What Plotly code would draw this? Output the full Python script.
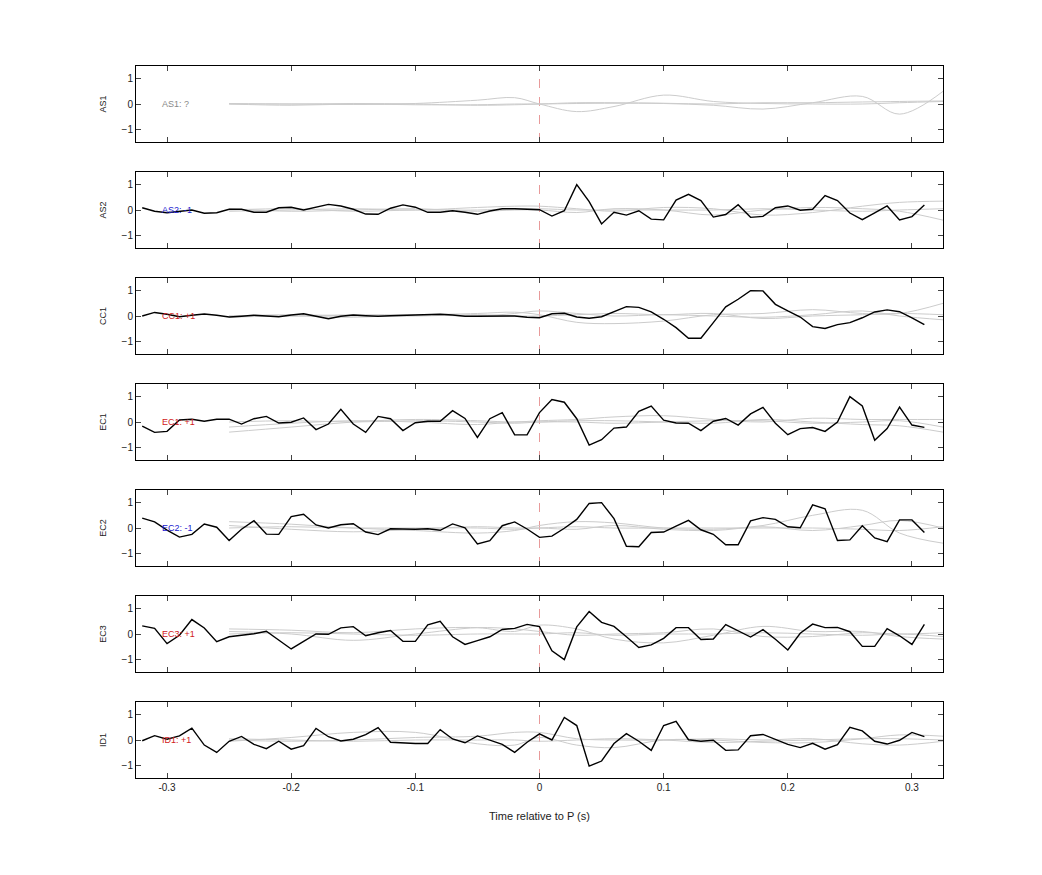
import plotly.graph_objects as go

# sample times of the black traces (s)
t = [round(-0.32 + 0.01 * k, 2) for k in range(64)]

# knots of the gray (smooth) traces
tk = [-0.25, -0.2, -0.15, -0.1, -0.05, -0.02, 0.0, 0.03, 0.06, 0.1, 0.14, 0.18, 0.22, 0.26, 0.29, 0.325]

stations = ["AS1", "AS2", "CC1", "EC1", "EC2", "EC3", "ID1"]
labels = ["AS1: ?", "AS2: -1", "CC1: +1", "EC1: +1", "EC2: -1", "EC3: +1", "ID1: +1"]
label_colors = ["#888888", "#2020d0", "#d02020", "#d02020", "#2020d0", "#d02020", "#d02020"]

black = {
    "AS1": None,
    "AS2": [0.09, -0.05, -0.11, -0.05, 0, -0.13, -0.11, 0.03, 0.03, -0.09,
            -0.09, 0.09, 0.11, 0, 0.11, 0.22, 0.16, 0.03, -0.16, -0.17,
            0.07, 0.2, 0.11, -0.09, -0.09, -0.03, -0.09, -0.17, -0.04, 0.05,
            0.05, 0.04, 0.01, -0.24, -0.03, 1.0, 0.33, -0.55, -0.09, -0.2,
            -0.03, -0.36, -0.39, 0.39, 0.62, 0.37, -0.28, -0.18, 0.21, -0.29,
            -0.25, 0.09, 0.16, -0.01, 0.03, 0.57, 0.37, -0.12, -0.38, -0.11,
            0.16, -0.39, -0.26, 0.2],
    "CC1": [0, 0.14, 0.07, -0.03, 0.03, 0.08, 0.03, -0.04, -0.01, 0.03,
            0, -0.03, 0.04, 0.09, -0.01, -0.11, -0.01, 0.04, 0.01, -0.01,
            0.01, 0.03, 0.04, 0.05, 0.07, 0.04, -0.01, -0.01, 0, 0,
            0, -0.05, -0.07, 0.09, 0.11, -0.04, -0.09, -0.03, 0.17, 0.37,
            0.34, 0.16, -0.13, -0.46, -0.88, -0.88, -0.26, 0.36, 0.66, 1.0,
            0.99, 0.46, 0.2, -0.04, -0.42, -0.49, -0.34, -0.26, -0.07, 0.16,
            0.24, 0.17, -0.07, -0.34],
    "EC1": [-0.16, -0.41, -0.37, 0.08, 0.11, 0.03, 0.11, 0.11, -0.08, 0.13,
            0.22, -0.04, -0.01, 0.16, -0.3, -0.08, 0.5, -0.08, -0.41, 0.22,
            0.13, -0.34, -0.03, 0.03, 0.03, 0.45, 0.14, -0.61, 0.13, 0.37,
            -0.51, -0.51, 0.37, 0.89, 0.78, 0.13, -0.91, -0.7, -0.24, -0.2,
            0.42, 0.63, 0.07, -0.04, -0.05, -0.34, 0.03, 0.14, -0.12, 0.32,
            0.58, -0.05, -0.5, -0.26, -0.22, -0.37, 0, 1.0, 0.63, -0.72,
            -0.26, 0.59, -0.12, -0.21],
    "EC2": [0.39, 0.24, -0.08, -0.36, -0.25, 0.16, 0.03, -0.49, -0.05, 0.29,
            -0.24, -0.25, 0.45, 0.54, 0.12, 0, 0.13, 0.17, -0.16, -0.26,
            -0.03, -0.05, -0.05, -0.03, -0.09, 0.16, 0.01, -0.63, -0.5, 0.09,
            0.24, -0.04, -0.37, -0.32, -0.01, 0.34, 0.97, 1.0, 0.37, -0.72,
            -0.74, -0.18, -0.16, 0.07, 0.3, -0.07, -0.25, -0.66, -0.66, 0.28,
            0.41, 0.34, 0.05, 0.01, 0.91, 0.76, -0.49, -0.47, 0.09, -0.39,
            -0.54, 0.32, 0.32, -0.18],
    "EC3": [0.32, 0.22, -0.38, -0.05, 0.57, 0.24, -0.3, -0.11, -0.05, 0.01,
            0.11, -0.24, -0.59, -0.29, 0, -0.01, 0.24, 0.29, -0.07, 0.05,
            0.14, -0.29, -0.29, 0.36, 0.5, -0.11, -0.41, -0.26, -0.11, 0.18,
            0.22, 0.38, 0.29, -0.66, -1.01, 0.28, 0.89, 0.46, 0.3, -0.11,
            -0.53, -0.43, -0.17, 0.25, 0.25, -0.22, -0.2, 0.37, 0.13, -0.12,
            0.17, -0.21, -0.63, 0.03, 0.39, 0.25, 0.26, 0.09, -0.49, -0.49,
            0.21, -0.07, -0.41, 0.38],
    "ID1": [-0.03, 0.17, 0.03, 0.16, 0.47, -0.2, -0.49, -0.05, 0.14, -0.17,
            -0.34, -0.05, -0.36, -0.22, 0.46, 0.13, -0.04, 0.03, 0.21, 0.49,
            -0.09, -0.12, -0.14, -0.14, 0.41, 0.04, -0.11, 0.16, 0, -0.17,
            -0.49, -0.09, 0.24, 0, 0.89, 0.57, -1.03, -0.83, -0.14, 0.25,
            -0.05, -0.41, 0.57, 0.74, 0.01, -0.05, -0.01, -0.41, -0.39, 0.17,
            0.22, 0.04, -0.17, -0.3, -0.13, -0.36, -0.18, 0.5, 0.36, -0.05,
            -0.16, -0.01, 0.3, 0.13],
}

gray = {
    "AS1": [[0, 0, -0.02, 0.02, 0.15, 0.25, 0, -0.3, -0.1, 0.35, 0.1, 0.02, 0, 0, 0.05, 0.1],
            [0, -0.05, 0, -0.03, -0.03, 0, 0, 0.02, 0.03, 0.02, -0.05, -0.2, 0.05, 0.3, -0.4, 0.5],
            [0.02, 0, 0.02, 0, -0.05, -0.03, 0, 0.05, 0.05, 0.03, 0, 0.05, 0.05, 0.08, 0.1, 0.12]],
    "AS2": [[-0.05, 0, 0.05, 0, 0.1, 0.15, 0.15, 0.05, -0.05, 0.1, 0.05, -0.2, -0.1, 0.15, 0.3, 0.35],
            [0.05, -0.05, 0, 0.05, -0.05, 0, 0, -0.1, 0.05, 0, -0.2, 0, 0.1, 0.05, -0.05, -0.4],
            [0, 0.05, -0.05, 0, 0, 0.05, 0.05, 0, 0, 0, 0, 0.05, 0, -0.05, 0, 0.05]],
    "CC1": [[0, 0, 0.05, 0.05, 0.1, 0.15, 0.05, -0.25, -0.3, -0.2, 0.05, 0.1, 0.25, 0.1, 0.1, 0.5],
            [-0.05, 0, -0.05, 0.05, 0, 0.1, 0.2, 0.1, 0, 0.05, 0, -0.05, 0.05, 0.2, 0, -0.15],
            [0, 0.05, 0, 0, 0.05, 0, 0, 0.05, 0.1, 0.05, 0.1, -0.1, 0, 0.05, 0.1, 0.05]],
    "EC1": [[-0.4, -0.2, 0, 0.1, 0.05, 0, 0.05, 0.1, 0.2, 0.25, 0.1, 0, 0.15, 0.1, 0.1, 0.1],
            [-0.2, -0.05, 0.05, 0, -0.1, 0, 0, 0.05, 0.05, 0, -0.05, 0.1, 0, -0.1, -0.15, -0.4],
            [0, 0.05, 0, 0.05, 0, -0.05, 0, 0, -0.05, 0, 0.05, 0.05, -0.05, 0, 0.05, -0.2]],
    "EC2": [[0.25, 0.15, 0, -0.1, -0.2, -0.1, 0.1, 0.25, 0.2, 0, -0.05, 0.1, 0.5, 0.7, -0.2, -0.6],
            [0.1, -0.05, -0.15, -0.05, 0.05, 0, 0, -0.05, 0.1, -0.05, -0.1, 0.05, -0.1, 0.1, 0.3, 0],
            [0, 0.05, 0, 0, 0, -0.05, 0, 0.05, 0, 0, 0, 0, 0, -0.05, -0.1, 0.05]],
    "EC3": [[0.2, 0.15, 0.05, 0.2, 0.25, 0.1, 0.35, 0.2, -0.2, -0.35, -0.05, 0.3, 0.1, 0.1, -0.1, -0.2],
            [0.1, 0, -0.25, 0, 0.25, 0.2, 0.1, -0.05, 0, 0.05, 0.2, -0.1, -0.1, 0.05, 0, 0.05],
            [0, 0.05, 0, -0.05, 0, 0, 0, 0.05, -0.05, 0, 0, 0.05, 0, -0.05, 0, -0.1]],
    "ID1": [[-0.05, 0.1, 0.3, 0.3, -0.15, -0.2, 0.1, -0.2, -0.3, 0, 0, -0.1, -0.1, 0.05, 0.2, 0.15],
            [0, -0.05, 0, 0.1, 0.15, 0.3, 0.3, 0.05, 0, 0, 0.05, 0, 0.05, -0.15, -0.2, -0.05],
            [0.05, 0, -0.05, 0, 0, 0, -0.05, 0, 0.05, 0, -0.1, -0.05, 0, 0.05, 0.05, 0]],
}

fig = go.Figure()
n = len(stations)
panel_h = 76
plot_h = 712
layout_axes = {}

for i, sta in enumerate(stations):
    ax = "" if i == 0 else str(i + 1)
    y0 = 1 - (106 * i + panel_h) / plot_h
    y1 = 1 - (106 * i) / plot_h
    for g in gray[sta]:
        fig.add_trace(go.Scatter(x=tk, y=g, mode="lines", line=dict(color="#cccccc", width=1, shape="spline"),
                                 xaxis="x" + ax, yaxis="y" + ax, showlegend=False, hoverinfo="skip"))
    if black[sta] is not None:
        fig.add_trace(go.Scatter(x=t, y=black[sta], mode="lines", line=dict(color="black", width=1.4),
                                 xaxis="x" + ax, yaxis="y" + ax, showlegend=False))
    fig.add_annotation(x=-0.306, y=0, xref="x" + ax, yref="y" + ax, text=labels[i], showarrow=False,
                       xanchor="left", font=dict(size=9, color=label_colors[i]))
    fig.add_shape(type="line", x0=0, x1=0, y0=-1.5, y1=1.5, xref="x" + ax, yref="y" + ax,
                  line=dict(color="#e89a9a", width=1, dash="dash"), layer="below")
    layout_axes["xaxis" + ax] = dict(range=[-0.325, 0.325], domain=[0, 1], anchor="y" + ax,
                                     showticklabels=(i == n - 1), tickvals=[-0.3, -0.2, -0.1, 0, 0.1, 0.2, 0.3],
                                     ticktext=["-0.3", "-0.2", "-0.1", "0", "0.1", "0.2", "0.3"],
                                     ticks="inside", ticklen=5, mirror="ticks", showline=True,
                                     linecolor="black", showgrid=False, zeroline=False,
                                     tickfont=dict(size=10))
    layout_axes["yaxis" + ax] = dict(range=[-1.5, 1.5], domain=[y0, y1], anchor="x" + ax,
                                     tickvals=[-1, 0, 1], ticks="inside", ticklen=5, mirror="ticks",
                                     showline=True, linecolor="black", showgrid=False, zeroline=False,
                                     tickfont=dict(size=10), title=dict(text=sta, font=dict(size=9), standoff=13))

layout_axes["xaxis" + str(n)]["title"] = dict(text="Time relative to P (s)", font=dict(size=11), standoff=20)

# page body adds ~8px offset, so margins are shifted
fig.update_layout(
    width=1042, height=875,
    margin=dict(l=128, r=107, t=58, b=105),
    plot_bgcolor="white", paper_bgcolor="white",
    font=dict(family="Liberation Sans, Arial", color="#222222"),
    **layout_axes,
)

fig.write_html("out.html")
